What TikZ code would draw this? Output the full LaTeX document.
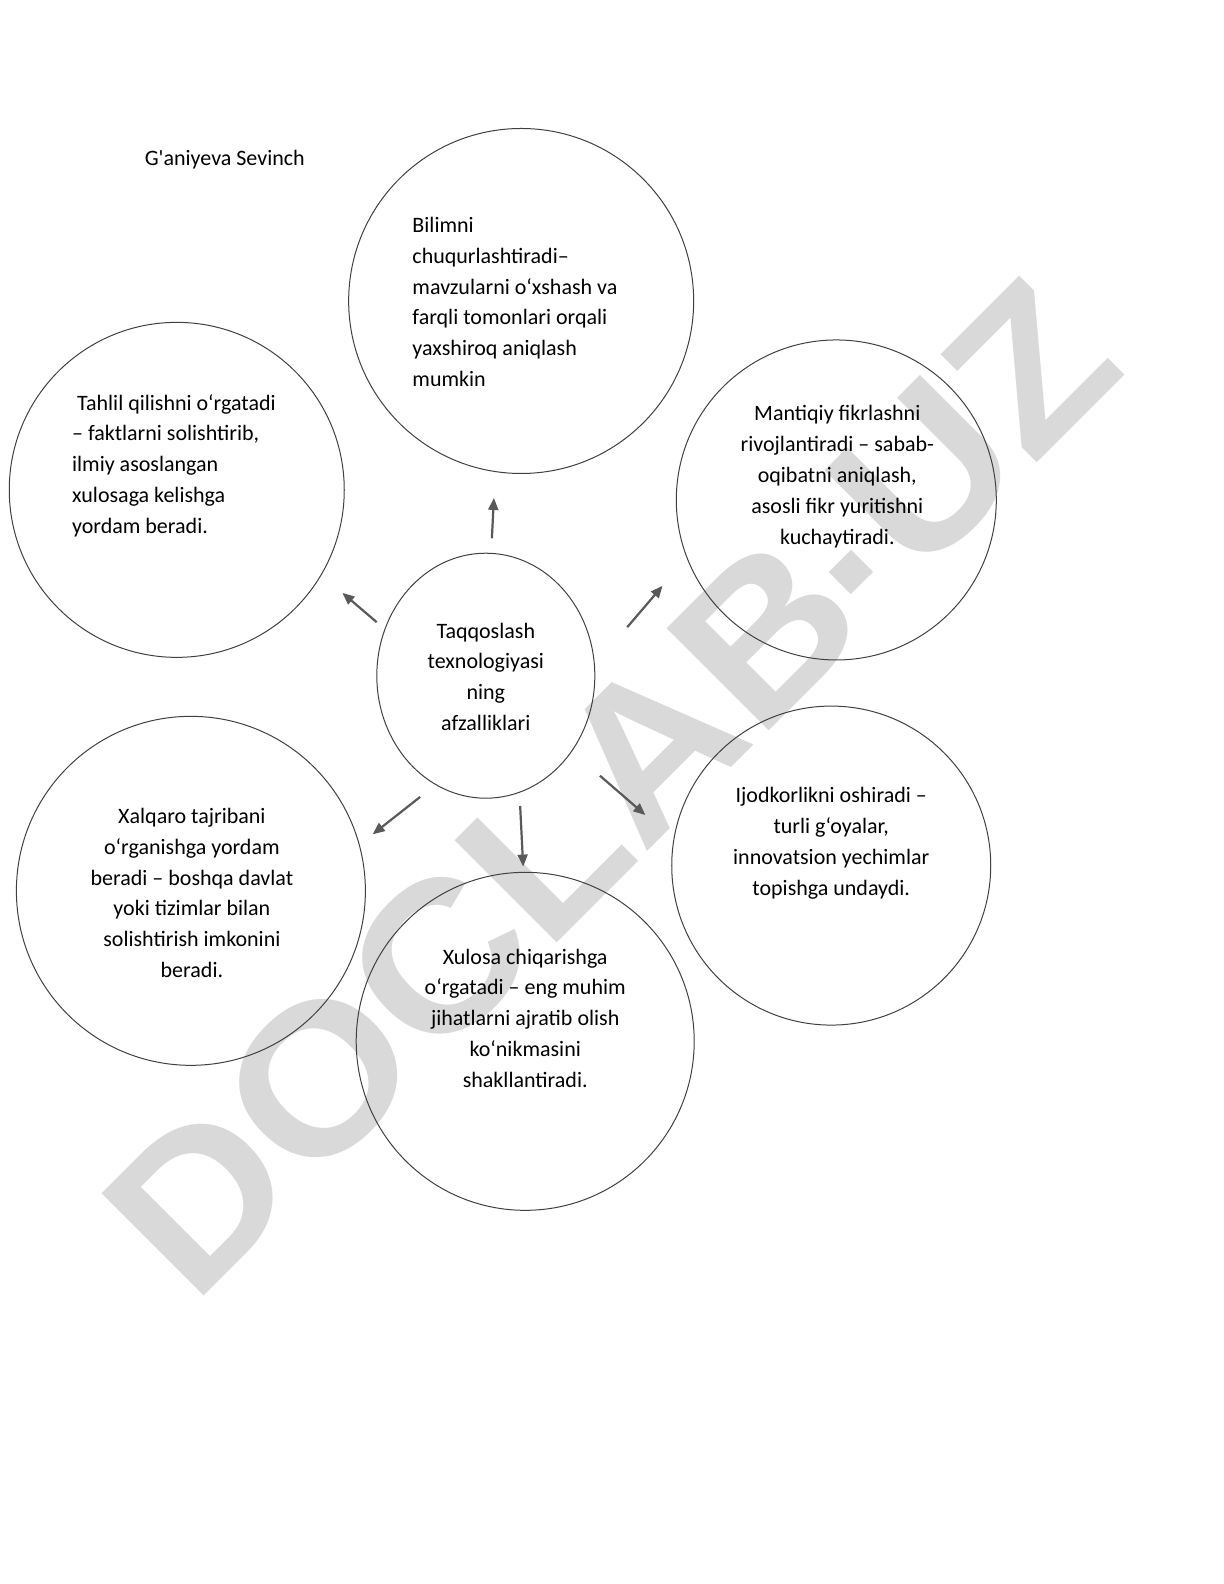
\documentclass[tikz,border=0pt]{standalone}
\usepackage{fontspec}
\newfontfamily\carlito{Carlito}
\newfontfamily\wmfont{Liberation Sans}
\usetikzlibrary{shapes.geometric,arrows.meta}
\definecolor{rim}{HTML}{404040}
\definecolor{arr}{HTML}{595959}
\definecolor{wmark}{HTML}{D9D9D9}
\tikzset{
  bubble/.style={circle,draw=rim,line width=0.5pt,inner sep=0pt},
  txt/.style={font=\carlito\fontsize{11}{15.4}\selectfont,inner sep=0pt},
  pointer/.style={draw=arr,line width=1.1pt,-{Triangle[length=6pt,width=5pt]}}
}
\begin{document}
\begin{tikzpicture}[x=0.5pt,y=-0.5pt]
    \useasboundingbox (0,0) rectangle (1224,1584);
  \begin{scope}[x=0.505pt,y=-0.505pt]
    \node[font=\wmfont\bfseries\fontsize{105}{105}\selectfont,text=wmark,
          rotate=45,anchor=base,xscale=1.07,inner sep=0pt] (WM) at (655,830)
      {DOCLAB\kern-4pt\raisebox{19pt}{.}\kern4pt UZ};

    \node[txt,anchor=west] (H) at (143,158) {G'aniyeva Sevinch};

    \node[bubble,minimum size=172.5pt] (C1) at (516,298) {};
    \node[bubble,minimum size=167.5pt] (C2) at (175,485) {};
    \node[bubble,minimum size=160pt]   (C3) at (828,495) {};
    \node[bubble,minimum size=174.5pt] (C4) at (189,882) {};
    \node[bubble,minimum size=169pt]   (C5) at (520,1031) {};
    \node[bubble,minimum size=159.5pt] (C6) at (823,857) {};
    \node[ellipse,draw=rim,line width=0.5pt,inner sep=0pt,
          minimum width=109pt,minimum height=122.5pt] (C0) at (481,669) {};

    \node[txt,align=left,anchor=west] (T1) at (408,299)
      {Bilimni\\chuqurlashtiradi–\\mavzularni o‘xshash va\\farqli tomonlari orqali\\yaxshiroq aniqlash\\mumkin};
    \node[txt,align=left,anchor=west] (T2) at (71,461)
      {\hspace*{2.5pt}Tahlil qilishni o‘rgatadi\\– faktlarni solishtirib,\\ilmiy asoslangan\\xulosaga kelishga\\yordam beradi.};
    \node[txt,align=center] (T3) at (829,472)
      {Mantiqiy fikrlashni\\rivojlantiradi – sabab-\\oqibatni aniqlash,\\asosli fikr yuritishni\\kuchaytiradi.};
    \node[txt,align=center] (T4) at (190,884)
      {Xalqaro tajribani\\o‘rganishga yordam\\beradi – boshqa davlat\\yoki tizimlar bilan\\solishtirish imkonini\\beradi.};
    \node[txt,align=center] (T5) at (520,1008)
      {Xulosa chiqarishga\\o‘rgatadi – eng muhim\\jihatlarni ajratib olish\\ko‘nikmasini\\shakllantiradi.};
    \node[txt,align=center] (T6) at (823,835)
      {Ijodkorlikni oshiradi –\\turli g‘oyalar,\\innovatsion yechimlar\\topishga undaydi.};
    \node[txt,align=center] (T0) at (481,670)
      {Taqqoslash\\texnologiyasi\\ning\\afzalliklari};

    % arrows out of the middle
    \coordinate (A1) at (487,533); \coordinate (B1) at (489,493);
    \coordinate (A2) at (373,616); \coordinate (B2) at (339,587);
    \coordinate (A3) at (621,621); \coordinate (B3) at (656,580);
    \coordinate (A4) at (416,789); \coordinate (B4) at (369,826);
    \coordinate (A5) at (515,798); \coordinate (B5) at (518,858);
    \coordinate (A6) at (594,768); \coordinate (B6) at (639,807);
    \foreach \i in {1,...,6}
      \draw[pointer] (A\i) -- (B\i);
  \end{scope}
\end{tikzpicture}
\end{document}
